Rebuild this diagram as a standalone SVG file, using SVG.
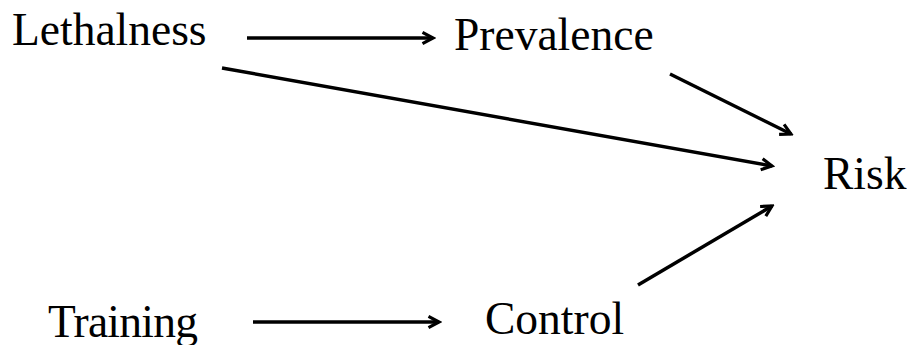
<svg xmlns="http://www.w3.org/2000/svg" width="907" height="345" viewBox="0 0 907 345">
<defs>
<style>
.lbl{font-family:"Liberation Serif","Times New Roman",serif;font-size:45.5px;fill:#000}
.edge{stroke:#000;stroke-width:3.5;fill:none;marker-end:url(#arr)}
</style>
<marker id="arr" viewBox="0 0 10 10" refX="8.5" refY="5" markerWidth="5" markerHeight="5" orient="auto" markerUnits="strokeWidth">
<polyline points="2.5,1.8 8.5,5 2.5,8.2" fill="none" stroke="#000" stroke-width="1.8"/>
</marker>
</defs>
<rect width="907" height="345" fill="#fff"/>
<g id="connectors">
<line class="edge" x1="247" y1="38" x2="433" y2="38"/>
<line class="edge" x1="222" y1="68" x2="772" y2="166"/>
<line class="edge" x1="670" y1="74" x2="791" y2="134"/>
<line class="edge" x1="638" y1="285" x2="772" y2="206"/>
<line class="edge" x1="253" y1="322" x2="439" y2="322"/>
</g>
<g id="lethalness"><text class="lbl" x="12" y="45">Lethalness</text></g>
<g id="prevalence"><text class="lbl" x="454" y="50">Prevalence</text></g>
<g id="risk"><text class="lbl" x="823" y="189">Risk</text></g>
<g id="training"><text class="lbl" x="48" y="337" textLength="150">Training</text></g>
<g id="control"><text class="lbl" x="485" y="334">Control</text></g>
</svg>
